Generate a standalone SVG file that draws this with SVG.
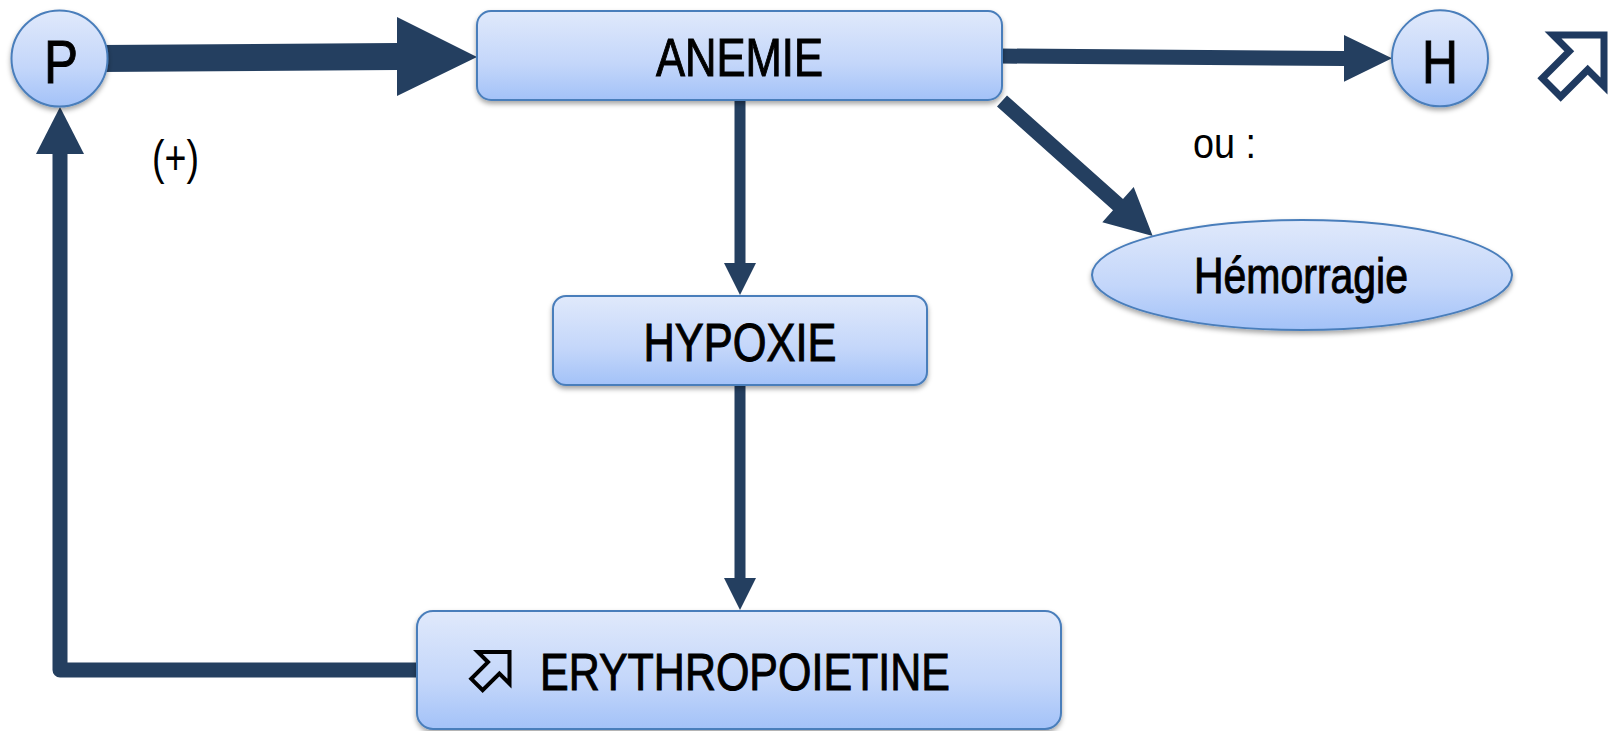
<svg xmlns="http://www.w3.org/2000/svg" width="1616" height="731" viewBox="0 0 1616 731">
  <style>
    .node { fill: url(#nodeGrad); stroke: #4a7ebb; stroke-width: 2; filter: url(#shadow); }
    .lbl { font-family: "Liberation Sans Narrow", "Liberation Sans", "Arial Narrow", sans-serif; fill: #000; }
    .heavy { stroke: #000; stroke-width: 1; }
    .conn { fill: #243f60; }
    .connLine { fill: none; stroke: #243f60; stroke-width: 15; stroke-linejoin: round; }
    .icon { fill: none; stroke-linejoin: miter; }
  </style>
  <defs>
    <linearGradient id="nodeGrad" x1="0" y1="0" x2="0" y2="1">
      <stop offset="0" stop-color="#e0e9fb"/>
      <stop offset="0.6" stop-color="#c3d6fa"/>
      <stop offset="1" stop-color="#a3c2f8"/>
    </linearGradient>
    <filter id="shadow" x="-10%" y="-10%" width="120%" height="130%">
      <feDropShadow dx="0" dy="3" stdDeviation="2.5" flood-color="#000" flood-opacity="0.35"/>
    </filter>
    <path id="hollowArrow" d="M0,0 L-51,0 L-34.7,16.3 L-61.7,43.3 L-43.3,61.7 L-16.3,34.7 L0,51 Z"/>
  </defs>

  <g id="connectors">
    <polygon class="conn" points="100,45 397,43 397,17 477,57 397,96 397,70 100,72"/>
    <polygon class="conn" points="1000,48.5 1344,51 1344,35 1392,58.3 1344,81.7 1344,66 1000,63.5"/>
    <polygon class="conn" points="997,106.6 1113,210.3 1102.3,222.3 1152.7,236 1133.7,187.1 1123,199.1 1007,95.4"/>
    <polygon class="conn" points="734.5,100 745.5,100 745.5,263 756,263 740,295 724,263 734.5,263"/>
    <polygon class="conn" points="734.5,385 745.5,385 745.5,578 756,578 740,610 724,578 734.5,578"/>
    <path class="connLine" d="M420,670 H60 V150"/>
    <polygon class="conn" points="36,154 84,154 60,107"/>
  </g>

  <g id="node-P">
    <circle class="node" cx="59.5" cy="58.5" r="48"/>
    <text class="lbl heavy" x="61" y="83" font-size="62" text-anchor="middle" textLength="34" lengthAdjust="spacingAndGlyphs">P</text>
  </g>

  <g id="node-anemie">
    <rect class="node" x="477" y="11" width="525" height="89" rx="14"/>
    <text class="lbl heavy" x="739.5" y="76" font-size="53" text-anchor="middle" textLength="167" lengthAdjust="spacingAndGlyphs">ANEMIE</text>
  </g>

  <g id="node-H">
    <circle class="node" cx="1440" cy="58.3" r="48"/>
    <text class="lbl heavy" x="1440" y="83" font-size="61" text-anchor="middle" textLength="36" lengthAdjust="spacingAndGlyphs">H</text>
  </g>

  <g id="icon-up">
    <use href="#hollowArrow" class="icon" transform="translate(1604,35)" stroke="#1f3a60" stroke-width="7"/>
  </g>

  <g id="node-hemorragie">
    <ellipse class="node" cx="1302" cy="275" rx="210" ry="55"/>
    <text class="lbl heavy" x="1301" y="293" font-size="50" text-anchor="middle" textLength="214" lengthAdjust="spacingAndGlyphs" stroke-width="1.3">Hémorragie</text>
  </g>

  <g id="node-hypoxie">
    <rect class="node" x="553" y="296" width="374" height="89" rx="13"/>
    <text class="lbl heavy" x="740" y="361" font-size="53" text-anchor="middle" textLength="193" lengthAdjust="spacingAndGlyphs">HYPOXIE</text>
  </g>

  <g id="node-epo">
    <rect class="node" x="417" y="611" width="644" height="118" rx="16"/>
    <use href="#hollowArrow" class="icon" transform="translate(509.5,652) scale(0.62)" stroke="#000" stroke-width="6.5"/>
    <text class="lbl heavy" x="540" y="690" font-size="52" textLength="410" lengthAdjust="spacingAndGlyphs">ERYTHROPOIETINE</text>
  </g>

  <g id="labels">
    <text class="lbl" x="1193" y="158" font-size="42" textLength="63" lengthAdjust="spacingAndGlyphs">ou :</text>
    <text class="lbl" x="152" y="174" font-size="48" textLength="47" lengthAdjust="spacingAndGlyphs">(+)</text>
  </g>
</svg>
